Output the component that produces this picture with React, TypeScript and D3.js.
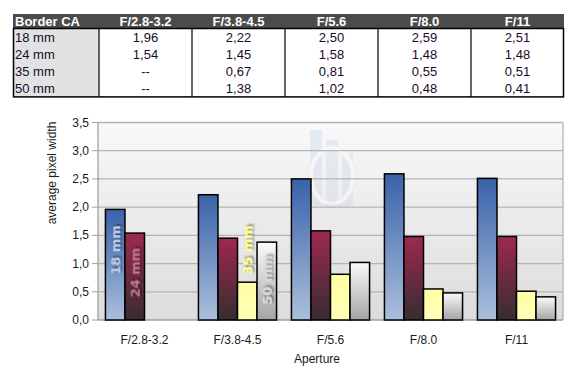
import React from "react";
import * as d3 from "d3";

const categories = ["F/2.8-3.2", "F/3.8-4.5", "F/5.6", "F/8.0", "F/11"];
const series = ["18 mm", "24 mm", "35 mm", "50 mm"];
const values18 = [1.96, 2.22, 2.5, 2.59, 2.51];
const values24 = [1.54, 1.45, 1.58, 1.48, 1.48];
const values35 = [null, 0.67, 0.81, 0.55, 0.51];
const values50 = [null, 1.38, 1.02, 0.48, 0.41];
const tableText18 = ["1,96", "2,22", "2,50", "2,59", "2,51"];
const tableText24 = ["1,54", "1,45", "1,58", "1,48", "1,48"];
const tableText35 = ["--", "0,67", "0,81", "0,55", "0,51"];
const tableText50 = ["--", "1,38", "1,02", "0,48", "0,41"];
const yTicks = [0, 0.5, 1, 1.5, 2, 2.5, 3, 3.5];
// legend labels placed inside bars: [category index, value at label centre]
const legendAnchors = [
  [0, 1.24],
  [0, 0.84],
  [1, 1.24],
  [1, 0.71],
];

const allValues = [values18, values24, values35, values50];
const tableRows = [tableText18, tableText24, tableText35, tableText50];

const gradients = [
  { id: "g18", top: "#3962aa", bottom: "#abbfdb" },
  { id: "g24", top: "#9e2850", bottom: "#372d31" },
  { id: "g35", top: "#ffffa6", bottom: "#ffffb4" },
  { id: "g50", top: "#fbfbfb", bottom: "#a4a4a4" },
];
const labelColors = ["#b8cbe6", "#c47494", "#ffff8a", "#dadada"];

const FONT = "'Liberation Sans', Arial, sans-serif";

export default function App() {
  const W = 584;
  const H = 378;
  const plotL = 98;
  const plotR = 563;
  const plotT = 122.5;
  const plotB = 320;

  const x0 = d3.scaleBand<string>().domain(categories).range([plotL, plotR]);
  const bw = x0.bandwidth();
  const x1 = d3
    .scaleBand<string>()
    .domain(series)
    .range([bw * 0.08, bw * 0.92]);
  const y = d3.scaleLinear().domain([0, 3.5]).range([plotB, plotT]);

  // table geometry
  const tL = 13;
  const firstColW = 86;
  const colW = 93;
  const tR = tL + firstColW + colW * categories.length;
  const headT = 14;
  const headH = 14.5;
  const rowH = 17.1;

  return (
    <svg
      width={W}
      height={H}
      style={{ position: "absolute", left: 0, top: 0, display: "block", background: "#fff" }}
    >
      <defs>
        <linearGradient id="plotBg" x1="0" y1="0" x2="0" y2="1">
          <stop offset="0" stopColor="#f9f9f9" />
          <stop offset="1" stopColor="#dcdcdc" />
        </linearGradient>
        {gradients.map((g) => (
          <linearGradient key={g.id} id={g.id} x1="0" y1="0" x2="0" y2="1">
            <stop offset="0" stopColor={g.top} />
            <stop offset="1" stopColor={g.bottom} />
          </linearGradient>
        ))}
        <filter id="shadow" x="-30%" y="-30%" width="160%" height="160%">
          <feDropShadow dx="1.5" dy="1.5" stdDeviation="1.2" floodColor="#000" floodOpacity="0.55" />
        </filter>
      </defs>

      {/* ---------- table ---------- */}
      <rect x={tL} y={headT} width={tR - tL} height={headH} fill="#4b4b4b" />
      <text x={tL + 2} y={headT + headH - 2.5} fill="#fff" fontFamily={FONT} fontWeight="bold" fontSize={13}>
        Border CA
      </text>
      {categories.map((c, i) => (
        <text
          key={c}
          x={tL + firstColW + colW * i + colW / 2}
          y={headT + headH - 2.5}
          fill="#fff"
          fontFamily={FONT}
          fontWeight="bold"
          fontSize={13}
          textAnchor="middle"
        >
          {c}
        </text>
      ))}
      <rect
        x={tL}
        y={headT + headH}
        width={firstColW}
        height={rowH * 4}
        fill="#e2e2e2"
      />
      {series.map((s, r) => (
        <g key={s}>
          <text
            x={tL + 2}
            y={headT + headH + rowH * r + 13.5}
            fontFamily={FONT}
            fontSize={13}
            fill="#1a0a2a"
          >
            {s}
          </text>
          {tableRows[r].map((t, i) => (
            <text
              key={i}
              x={tL + firstColW + colW * i + colW / 2}
              y={headT + headH + rowH * r + 13.5}
              fontFamily={FONT}
              fontSize={13}
              textAnchor="middle"
              fill="#1a0a2a"
            >
              {t}
            </text>
          ))}
        </g>
      ))}
      <rect
        x={tL + 0.5}
        y={headT + headH}
        width={tR - tL - 1}
        height={rowH * 4}
        fill="none"
        stroke="#000"
        strokeWidth={1.5}
      />
      {categories.map((c, i) => (
        <line
          key={c}
          x1={tL + firstColW + colW * i}
          x2={tL + firstColW + colW * i}
          y1={headT + headH}
          y2={headT + headH + rowH * 4}
          stroke="#000"
          strokeWidth={1.2}
        />
      ))}

      {/* ---------- chart ---------- */}
      <rect x={plotL} y={plotT} width={plotR - plotL} height={plotB - plotT} fill="url(#plotBg)" />

      {/* watermark */}
      <g opacity={0.35}>
        <rect x={310} y={130} width={12} height={74} fill="#c4d6e8" />
        <rect x={326} y={140} width={12} height={65} fill="#c4d6e8" />
        <rect x={342} y={153} width={11} height={52} fill="#c4d6e8" />
        <ellipse cx={332} cy={176} rx={21} ry={28} fill="none" stroke="#d8d8d8" strokeWidth={6} />
        <ellipse cx={332} cy={176} rx={21} ry={28} fill="none" stroke="#ffffff" strokeWidth={4} />
        <text x={331} y={208} fontFamily={FONT} fontSize={8} textAnchor="middle" fill="#b8b8b8">
          photozone
        </text>
      </g>

      {yTicks.map((t) => (
        <g key={t}>
          {t > 0 && (
            <line x1={plotL} x2={plotR} y1={y(t)} y2={y(t)} stroke="#b4b4b4" strokeWidth={1.3} />
          )}
          <line x1={plotL - 6} x2={plotL} y1={y(t)} y2={y(t)} stroke="#a0a0a0" strokeWidth={1} />
          <text
            x={plotL - 9}
            y={y(t) + 4}
            textAnchor="end"
            fontFamily={FONT}
            fontSize={12}
            fill="#1a1a1a"
          >
            {d3.format(".1f")(t).replace(".", ",")}
          </text>
        </g>
      ))}
      <line x1={plotR} x2={plotR} y1={plotT} y2={plotB} stroke="#b4b4b4" strokeWidth={1.3} />
      <line x1={plotL} x2={plotL} y1={plotT} y2={plotB} stroke="#a0a0a0" strokeWidth={1.3} />
      <line x1={plotL} x2={plotR} y1={plotB} y2={plotB} stroke="#a0a0a0" strokeWidth={1.3} />

      {/* bars */}
      {categories.map((c, i) => (
        <g key={c} transform={`translate(${x0(c)},0)`}>
          {series.map((s, k) => {
            const v = allValues[k][i];
            if (v === null || v === undefined) return null;
            return (
              <rect
                key={s}
                x={x1(s)}
                y={y(v)}
                width={x1.bandwidth()}
                height={y(0) - y(v)}
                fill={`url(#${gradients[k].id})`}
                stroke="#000"
                strokeWidth={1.5}
              />
            );
          })}
        </g>
      ))}

      {/* series labels inside bars */}
      {series.map((s, k) => {
        const [ci, val] = legendAnchors[k];
        const cx = (x0(categories[ci]) as number) + (x1(s) as number) + x1.bandwidth() / 2;
        const cy = y(val);
        return (
          <text
            key={s}
            transform={`translate(${cx},${cy}) rotate(-90)`}
            textAnchor="middle"
            dy="0.36em"
            fontFamily="'DejaVu Sans', Verdana, sans-serif"
            fontWeight="bold"
            fontSize={13}
            fill={labelColors[k]}
            filter="url(#shadow)"
          >
            {s}
          </text>
        );
      })}

      {/* category labels */}
      {categories.map((c) => (
        <text
          key={c}
          x={(x0(c) as number) + bw / 2}
          y={343.5}
          textAnchor="middle"
          fontFamily={FONT}
          fontSize={12}
          fill="#1a1a1a"
        >
          {c}
        </text>
      ))}
      <text x={317} y={362.5} textAnchor="middle" fontFamily={FONT} fontSize={12} fill="#1a1a1a">
        Aperture
      </text>
      <text
        transform={`translate(56,173) rotate(-90)`}
        textAnchor="middle"
        fontFamily={FONT}
        fontSize={12}
        fill="#1a1a1a"
      >
        average pixel width
      </text>
    </svg>
  );
}
